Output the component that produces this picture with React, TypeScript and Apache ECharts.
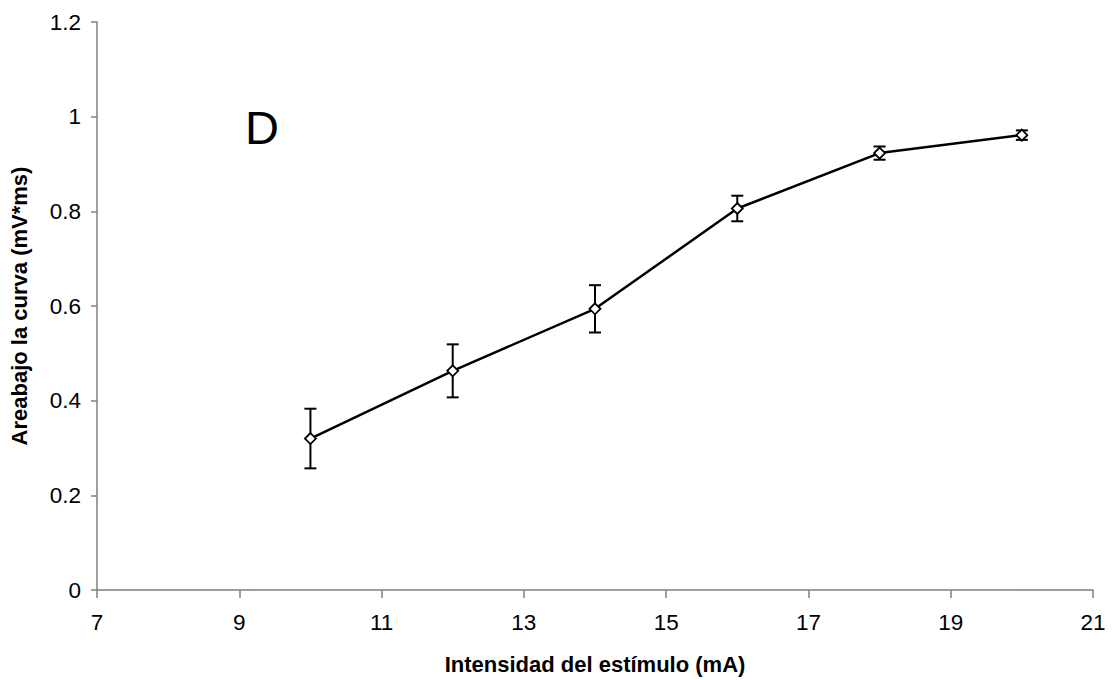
import React, { useEffect, useRef } from "react";
import * as echarts from "echarts";

// Stimulus intensity (mA) and area under the curve (mV*ms), mean ± error
const intensity = [10, 12, 14, 16, 18, 20];
const areaMean = [0.32, 0.463, 0.594, 0.806, 0.923, 0.961];
const areaError = [0.063, 0.056, 0.05, 0.027, 0.014, 0.01];
const xTicks = [7, 9, 11, 13, 15, 17, 19, 21];
const yTicks = [0, 0.2, 0.4, 0.6, 0.8, 1, 1.2];

const FONT = "'Liberation Sans', Arial, sans-serif";

export default function App() {
  const ref = useRef<HTMLDivElement>(null);

  useEffect(() => {
    if (!ref.current) return;
    const chart = echarts.init(ref.current, undefined, { renderer: "svg" });

    const errData = intensity.map((x, i) => [x, areaMean[i] - areaError[i], areaMean[i] + areaError[i]]);

    chart.setOption({
      animation: false,
      backgroundColor: "#ffffff",
      grid: { left: 96, right: 19, top: 22, bottom: 88, containLabel: false },
      xAxis: {
        type: "value",
        min: xTicks[0],
        max: xTicks[xTicks.length - 1],
        interval: 2,
        name: "Intensidad del estímulo (mA)",
        nameLocation: "middle",
        nameGap: 63,
        nameTextStyle: { fontFamily: FONT, fontSize: 22, fontWeight: "bold", color: "#000" },
        axisLine: { lineStyle: { color: "#808080", width: 1.5 } },
        axisTick: { show: true, inside: false, length: 8, lineStyle: { color: "#808080", width: 1.5 } },
        axisLabel: { fontFamily: FONT, fontSize: 22.5, color: "#000", margin: 21 },
        splitLine: { show: false },
      },
      yAxis: {
        type: "value",
        min: yTicks[0],
        max: yTicks[yTicks.length - 1],
        interval: 0.2,
        name: "Areabajo la curva (mV*ms)",
        nameLocation: "middle",
        nameGap: 67,
        nameTextStyle: { fontFamily: FONT, fontSize: 22, fontWeight: "bold", color: "#000" },
        axisLine: { show: true, lineStyle: { color: "#808080", width: 1.5 } },
        axisTick: { show: true, inside: false, length: 6, lineStyle: { color: "#808080", width: 1.5 } },
        axisLabel: { fontFamily: FONT, fontSize: 22.5, color: "#000", margin: 16 },
        splitLine: { show: false },
      },
      graphic: [
        {
          type: "text",
          left: 245,
          top: 104,
          style: { text: "D", fontFamily: FONT, fontSize: 47, fill: "#000" },
        },
      ],
      series: [
        {
          type: "custom",
          name: "error",
          data: errData,
          z: 1,
          renderItem: (params: any, api: any) => {
            const x = api.value(0);
            const lo = api.coord([x, api.value(1)]);
            const hi = api.coord([x, api.value(2)]);
            const half = 6;
            const style = { stroke: "#000", lineWidth: 2 };
            return {
              type: "group",
              children: [
                { type: "line", shape: { x1: lo[0], y1: lo[1], x2: hi[0], y2: hi[1] }, style },
                { type: "line", shape: { x1: lo[0] - half, y1: lo[1], x2: lo[0] + half, y2: lo[1] }, style },
                { type: "line", shape: { x1: hi[0] - half, y1: hi[1], x2: hi[0] + half, y2: hi[1] }, style },
              ],
            };
          },
        },
        {
          type: "line",
          name: "Area",
          data: intensity.map((x, i) => [x, areaMean[i]]),
          z: 3,
          symbol: "diamond",
          symbolSize: 11,
          lineStyle: { color: "#000", width: 2.5 },
          itemStyle: { color: "#fff", borderColor: "#000", borderWidth: 1.8 },
        },
      ],
    });

    return () => chart.dispose();
  }, []);

  return <div ref={ref} style={{ width: 1112, height: 680, position: "absolute", left: 0, top: 0 }} />;
}
